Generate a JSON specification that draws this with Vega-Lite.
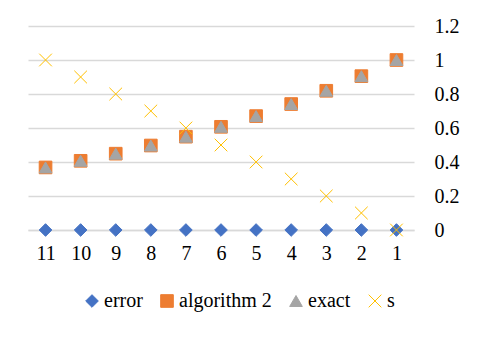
{
  "$schema": "https://vega.github.io/schema/vega-lite/v6.json",
  "width": 386,
  "height": 204,
  "autosize": "none",
  "padding": {"left": 28, "top": 26, "right": 66, "bottom": 108},
  "background": "white",
  "config": {"view": {"stroke": null}, "font": "Liberation Serif",
             "axis": {"labelFont": "Liberation Serif"}, "legend": {"labelFont": "Liberation Serif"}},
  "data": {"values": [
    {"x": "11", "series": "error", "value": 0},
    {"x": "10", "series": "error", "value": 0},
    {"x": "9", "series": "error", "value": 0},
    {"x": "8", "series": "error", "value": 0},
    {"x": "7", "series": "error", "value": 0},
    {"x": "6", "series": "error", "value": 0},
    {"x": "5", "series": "error", "value": 0},
    {"x": "4", "series": "error", "value": 0},
    {"x": "3", "series": "error", "value": 0},
    {"x": "2", "series": "error", "value": 0},
    {"x": "1", "series": "error", "value": 0},
    {"x": "11", "series": "algorithm 2", "value": 0.368},
    {"x": "10", "series": "algorithm 2", "value": 0.407},
    {"x": "9", "series": "algorithm 2", "value": 0.449},
    {"x": "8", "series": "algorithm 2", "value": 0.497},
    {"x": "7", "series": "algorithm 2", "value": 0.549},
    {"x": "6", "series": "algorithm 2", "value": 0.607},
    {"x": "5", "series": "algorithm 2", "value": 0.670},
    {"x": "4", "series": "algorithm 2", "value": 0.741},
    {"x": "3", "series": "algorithm 2", "value": 0.819},
    {"x": "2", "series": "algorithm 2", "value": 0.905},
    {"x": "1", "series": "algorithm 2", "value": 1.0},
    {"x": "11", "series": "exact", "value": 0.368},
    {"x": "10", "series": "exact", "value": 0.407},
    {"x": "9", "series": "exact", "value": 0.449},
    {"x": "8", "series": "exact", "value": 0.497},
    {"x": "7", "series": "exact", "value": 0.549},
    {"x": "6", "series": "exact", "value": 0.607},
    {"x": "5", "series": "exact", "value": 0.670},
    {"x": "4", "series": "exact", "value": 0.741},
    {"x": "3", "series": "exact", "value": 0.819},
    {"x": "2", "series": "exact", "value": 0.905},
    {"x": "1", "series": "exact", "value": 1.0},
    {"x": "11", "series": "s", "value": 1.0},
    {"x": "10", "series": "s", "value": 0.9},
    {"x": "9", "series": "s", "value": 0.8},
    {"x": "8", "series": "s", "value": 0.7},
    {"x": "7", "series": "s", "value": 0.6},
    {"x": "6", "series": "s", "value": 0.5},
    {"x": "5", "series": "s", "value": 0.4},
    {"x": "4", "series": "s", "value": 0.3},
    {"x": "3", "series": "s", "value": 0.2},
    {"x": "2", "series": "s", "value": 0.1},
    {"x": "1", "series": "s", "value": 0}
  ]},
  "mark": {"type": "point", "filled": true, "strokeWidth": 1, "size": 160, "opacity": 1},
  "encoding": {
    "x": {
      "field": "x", "type": "nominal",
      "sort": ["11", "10", "9", "8", "7", "6", "5", "4", "3", "2", "1"],
      "axis": {"title": null, "labelAngle": 0, "labelFontSize": 20, "labelFont": "Liberation Serif", "labelColor": "#000",
               "domainColor": "#D9D9D9", "domainWidth": 1.5, "tickColor": "#D9D9D9", "tickSize": 5,
               "bandPosition": 0, "labelPadding": 8, "grid": false}
    },
    "y": {
      "field": "value", "type": "quantitative",
      "scale": {"domain": [0, 1.2]},
      "axis": {"orient": "right", "title": null, "values": [0, 0.2, 0.4, 0.6, 0.8, 1, 1.2],
               "format": "~g", "domain": false, "ticks": false, "labelPadding": 20,
               "labelFontSize": 20, "labelFont": "Liberation Serif", "labelColor": "#000", "gridColor": "#D9D9D9", "gridWidth": 1.5}
    },
    "color": {
      "field": "series", "type": "nominal",
      "scale": {"domain": ["error", "algorithm 2", "exact", "s"], "range": ["#4472C4", "#ED7D31", "#A5A5A5", "#FFC000"]},
      "legend": {"title": null, "orient": "none", "legendX": 54, "legendY": 265, "direction": "horizontal", "labelFontSize": 20,
                 "labelFont": "Liberation Serif", "labelColor": "#000", "symbolSize": 160, "columnPadding": 14, "labelOffset": 2, "symbolStrokeWidth": 1}
    },
    "stroke": {
      "field": "series", "type": "nominal",
      "scale": {"domain": ["error", "algorithm 2", "exact", "s"], "range": ["#4472C4", "#ED7D31", "#A5A5A5", "#FFC000"]},
      "legend": {"title": null, "orient": "none", "legendX": 54, "legendY": 265, "direction": "horizontal", "labelFontSize": 20,
                 "labelFont": "Liberation Serif", "labelColor": "#000", "symbolSize": 160, "columnPadding": 14, "labelOffset": 2, "symbolStrokeWidth": 1}
    },
    "shape": {
      "field": "series", "type": "nominal",
      "scale": {"domain": ["error", "algorithm 2", "exact", "s"], "range": ["diamond", "square", "triangle-up", "M-1,-1L1,1M-1,1L1,-1"]},
      "legend": {"title": null, "orient": "none", "legendX": 54, "legendY": 265, "direction": "horizontal", "labelFontSize": 20,
                 "labelFont": "Liberation Serif", "labelColor": "#000", "symbolSize": 160, "columnPadding": 14, "labelOffset": 2, "symbolStrokeWidth": 1}
    }
  }
}
